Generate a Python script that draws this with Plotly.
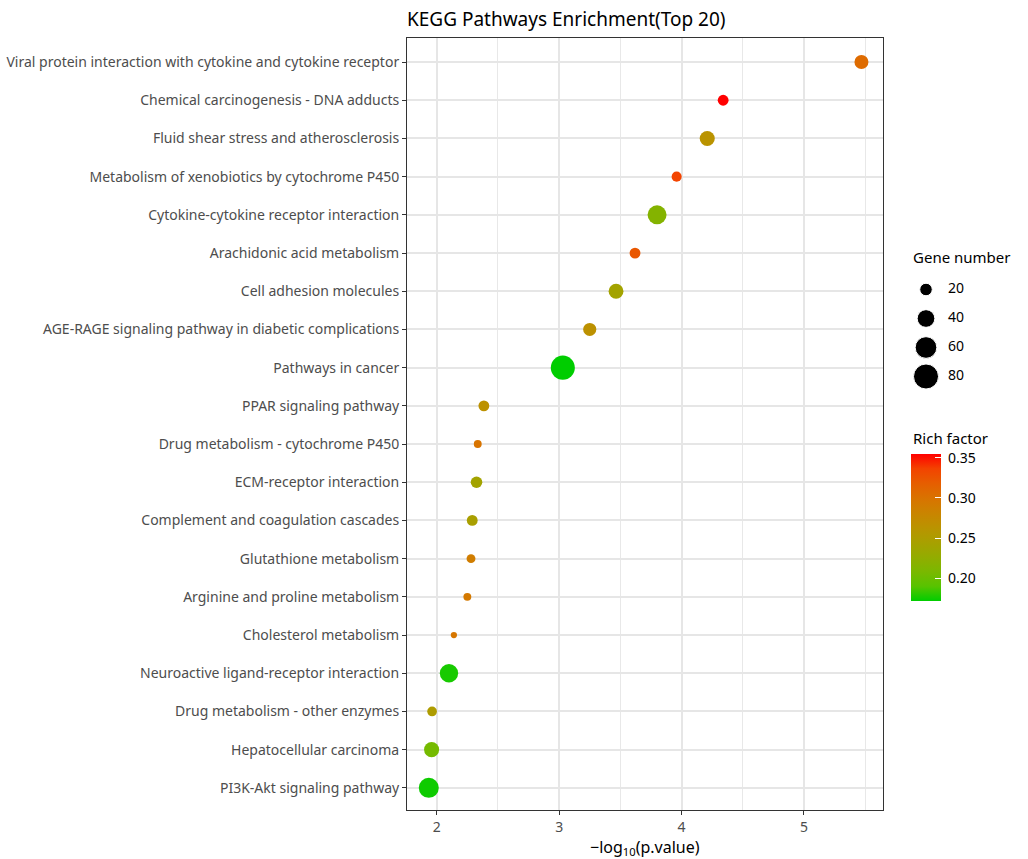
import plotly.graph_objects as go

pathways = [
    "Viral protein interaction with cytokine and cytokine receptor",
    "Chemical carcinogenesis - DNA adducts",
    "Fluid shear stress and atherosclerosis",
    "Metabolism of xenobiotics by cytochrome P450",
    "Cytokine-cytokine receptor interaction",
    "Arachidonic acid metabolism",
    "Cell adhesion molecules",
    "AGE-RAGE signaling pathway in diabetic complications",
    "Pathways in cancer",
    "PPAR signaling pathway",
    "Drug metabolism - cytochrome P450",
    "ECM-receptor interaction",
    "Complement and coagulation cascades",
    "Glutathione metabolism",
    "Arginine and proline metabolism",
    "Cholesterol metabolism",
    "Neuroactive ligand-receptor interaction",
    "Drug metabolism - other enzymes",
    "Hepatocellular carcinoma",
    "PI3K-Akt signaling pathway",
]
neg_log10_p = [5.47, 4.34, 4.21, 3.96, 3.80, 3.62, 3.465, 3.25, 3.03, 2.385,
               2.335, 2.325, 2.29, 2.28, 2.25, 2.14, 2.10, 1.962, 1.958, 1.935]
gene_number = [25, 15, 29, 13, 46, 15, 28, 22, 74, 15,
               8, 17, 15, 10, 8, 5, 43, 12, 29, 51]
rich_factor = [0.306, 0.354, 0.262, 0.335, 0.215, 0.322, 0.240, 0.265, 0.171, 0.265,
               0.298, 0.240, 0.245, 0.288, 0.293, 0.296, 0.176, 0.250, 0.205, 0.174]

legend_sizes = [20, 40, 60, 80]
x_ticks = [2, 3, 4, 5]
cbar_ticks = [0.20, 0.25, 0.30, 0.35]

W, H = 1028, 859
L_PX, R_PX, T_PX, B_PX = 407, 883, 38, 810
PH = B_PX - T_PX
SIZEREF = 2 / 7.84


def py(px):  # pixel row -> paper y
    return (B_PX - px) / PH


def px_x(px):  # pixel column -> paper x
    return px / W


# ggplot-like Lab interpolation between low and high colours
def srgb_to_lab(rgb):
    def lin(c):
        c = c / 255
        return c / 12.92 if c <= 0.04045 else ((c + 0.055) / 1.055) ** 2.4
    r, g, b = [lin(c) for c in rgb]
    X = (0.4124 * r + 0.3576 * g + 0.1805 * b) / 0.95047
    Y = (0.2126 * r + 0.7152 * g + 0.0722 * b)
    Z = (0.0193 * r + 0.1192 * g + 0.9505 * b) / 1.08883
    def f(t):
        return t ** (1 / 3) if t > 0.008856 else 7.787 * t + 16 / 116
    fx, fy, fz = f(X), f(Y), f(Z)
    return 116 * fy - 16, 500 * (fx - fy), 200 * (fy - fz)


def lab_to_srgb(lab):
    Lv, a, b = lab
    fy = (Lv + 16) / 116
    fx = fy + a / 500
    fz = fy - b / 200
    def finv(t):
        return t ** 3 if t ** 3 > 0.008856 else (t - 16 / 116) / 7.787
    X, Y, Z = finv(fx) * 0.95047, finv(fy), finv(fz) * 1.08883
    r = 3.2406 * X - 1.5372 * Y - 0.4986 * Z
    g = -0.9689 * X + 1.8758 * Y + 0.0415 * Z
    bb = 0.0557 * X - 0.2040 * Y + 1.0570 * Z
    def gam(c):
        c = max(0.0, min(1.0, c))
        return 12.92 * c if c <= 0.0031308 else 1.055 * c ** (1 / 2.4) - 0.055
    return tuple(int(round(gam(c) * 255)) for c in (r, g, bb))


low, high = (0, 205, 0), (255, 0, 0)
lab_lo, lab_hi = srgb_to_lab(low), srgb_to_lab(high)
colorscale = []
for i in range(11):
    t = i / 10
    lab = tuple(lab_lo[k] + (lab_hi[k] - lab_lo[k]) * t for k in range(3))
    colorscale.append([t, "rgb(%d,%d,%d)" % lab_to_srgb(lab)])

cmin, cmax = min(rich_factor), max(rich_factor)

FONT = "Noto Sans"

fig = go.Figure()
fig.add_trace(go.Scatter(
    x=neg_log10_p, y=pathways, mode="markers",
    marker=dict(size=gene_number, sizemode="area", sizeref=SIZEREF, opacity=1,
                color=rich_factor, colorscale=colorscale, cmin=cmin, cmax=cmax,
                line=dict(width=0),
                colorbar=dict(
                    thickness=30, lenmode="pixels", len=147,
                    x=px_x(911), xanchor="left", xpad=0,
                    y=py(528), yanchor="middle",
                    ypad=0, outlinewidth=0,
                    tickvals=cbar_ticks,
                    ticktext=["\u00a0%.2f" % v for v in cbar_ticks],
                    ticks="inside", ticklen=6, tickcolor="white", tickwidth=1,
                    tickfont=dict(size=14, color="black", family=FONT),
                )),
    showlegend=False, hoverinfo="x+y",
))

# size legend drawn on a secondary, hidden axis pair
fig.add_trace(go.Scatter(
    x=[0] * len(legend_sizes), y=legend_sizes, mode="markers",
    marker=dict(size=legend_sizes, sizemode="area", sizeref=SIZEREF, color="black",
                opacity=1),
    xaxis="x2", yaxis="y2", showlegend=False, hoverinfo="skip", cliponaxis=False,
))
fig.add_trace(go.Scatter(
    x=[0.44] * len(legend_sizes), y=legend_sizes, mode="text",
    text=[str(s) for s in legend_sizes], textposition="middle right",
    textfont=dict(size=14, color="black", family=FONT),
    xaxis="x2", yaxis="y2", showlegend=False, hoverinfo="skip", cliponaxis=False,
))

fig.update_layout(
    width=W, height=H,
    margin=dict(l=0, r=0, t=T_PX, b=H - B_PX, pad=0, autoexpand=False),
    paper_bgcolor="white", plot_bgcolor="white",
    font=dict(family=FONT, color="#4D4D4D"),
    title=dict(text="KEGG Pathways Enrichment(Top 20)", x=L_PX / W, xanchor="left",
               yref="container", y=1 - 19 / H, yanchor="middle",
               font=dict(size=19, color="black", family=FONT)),
    xaxis=dict(domain=[L_PX / W, R_PX / W], range=[1.757, 5.646],
               tickvals=x_ticks, ticks="outside", ticklen=4, tickcolor="#333333",
               tickfont=dict(size=14, color="#4D4D4D"),
               showgrid=True, gridcolor="#E6E6E6", gridwidth=1.6,
               minor=dict(dtick=0.5, showgrid=True, gridcolor="#E8E8E8", gridwidth=1.4),
               showline=True, linecolor="#333333", linewidth=1, mirror=True,
               zeroline=False, automargin=False),
    yaxis=dict(categoryorder="array", categoryarray=pathways[::-1],
               range=[-0.58, 19.63], ticks="outside", ticklen=4, tickcolor="#333333",
               tickfont=dict(size=14, color="#4D4D4D"),
               showgrid=True, gridcolor="#E6E6E6", gridwidth=1.6,
               showline=True, linecolor="#333333", linewidth=1, mirror=True,
               zeroline=False, automargin=False),
    xaxis2=dict(domain=[px_x(901), px_x(1001)], range=[-0.5, 1.5], visible=False,
                anchor="y2"),
    yaxis2=dict(domain=[py(391), py(275)], range=[90, 10], visible=False, anchor="x2"),
    annotations=[
        dict(text="Gene number", x=px_x(911), y=py(257),
             xref="paper", yref="paper", xanchor="left", yanchor="middle",
             showarrow=False, font=dict(size=15, color="black")),
        dict(text="Rich factor", x=px_x(911), y=py(438),
             xref="paper", yref="paper", xanchor="left", yanchor="middle",
             showarrow=False, font=dict(size=15, color="black")),
        dict(text="−log<sub>10</sub>(p.value)", x=(L_PX + R_PX) / 2 / W, y=py(847),
             xref="paper", yref="paper", xanchor="center", yanchor="middle",
             showarrow=False, font=dict(size=16, color="black")),
    ],
)

fig.write_html("out.html", config={"displayModeBar": False},
               post_script="document.body.style.margin='0';")
